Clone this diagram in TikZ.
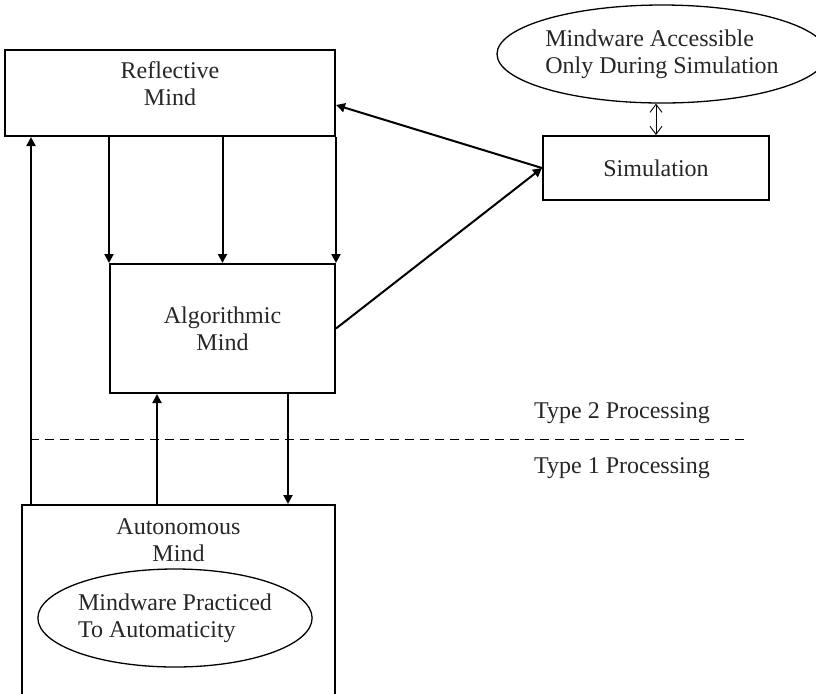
\documentclass[tikz,border=0pt]{standalone}
\usepackage{fontspec}
\setmainfont{Liberation Serif}
\usetikzlibrary{positioning,arrows.meta,shapes.geometric}

\begin{document}
\begin{tikzpicture}[
        x=0.5pt, y=-0.5pt,
        every node/.style = {font=\fontsize{12}{13.5}\selectfont, text=black!85},
        mindbox/.style = {rectangle, draw, line width=1pt, align=center, inner sep=0pt},
        mindtext/.style = {align=center, inner sep=0pt},
        mindware/.style = {ellipse, draw, line width=0.65pt, align=left, inner sep=0pt},
        flow/.style = {line width=1pt, -{Triangle[length=4.5pt,width=4.5pt]}},
        dbl/.style = {line width=0.45pt, {Straight Barb[length=4pt,width=6pt]}-{Straight Barb[length=4pt,width=6pt]}}
        ]
        \useasboundingbox (0,0) rectangle (816,693);

        % the three minds
        \node[mindbox, minimum width=165pt, minimum height=43pt] (refl) at (170,93) {};
        \node[mindtext, below=6pt of refl.north] (refltext) {Reflective\\Mind};
        \node[mindbox, minimum width=112.5pt, minimum height=64.5pt] (algo) at (222.5,328.5) {Algorithmic\\Mind};
        \node[mindbox, minimum width=156.5pt, minimum height=107.5pt] (auto) at (178.5,612.5) {};
        \node[mindtext, below=7pt of auto.north] (autotext) {Autonomous\\Mind};
        \node[mindware, minimum width=122pt, minimum height=49pt] (mwauto) at (175,618) {Mindware Practiced\\To Automaticity};

        % simulation
        \node[mindbox, minimum width=113pt, minimum height=32pt] (sim) at (656,168) {Simulation};
        \node[mindware, minimum width=153pt, minimum height=49pt] (mwsim) at (662,54) {Mindware Accessible\\Only During Simulation};

        % processing types
        \coordinate (dl) at (30,439);
        \coordinate (dr) at (748,439);
        \draw[line width=0.5pt, dash pattern=on 4.5pt off 3pt] (dl) -- (dr);
        \node[mindtext] (type2) at (622,413) {Type 2 Processing};
        \node[mindtext] (type1) at (622,468) {Type 1 Processing};

        % connections
        \foreach \a in {north west, north, north east}
                \draw[flow] (algo.\a |- refl.south) -- (algo.\a);
        \draw[flow] ([xshift=5pt]auto.north west) -- ([xshift=5pt]auto.north west |- refl.south);
        \draw[flow] ([xshift=24pt]algo.south west |- auto.north) -- ([xshift=24pt]algo.south west);
        \draw[flow] ([xshift=-24pt]algo.south east) -- ([xshift=-24pt]algo.south east |- auto.north);
        \draw[flow] (sim.west) -- ([yshift=-6pt]refl.east);
        \draw[flow] (algo.east) -- (sim.west);
        \draw[dbl] (sim.north) -- (sim.north |- mwsim.south);
\end{tikzpicture}
\end{document}
